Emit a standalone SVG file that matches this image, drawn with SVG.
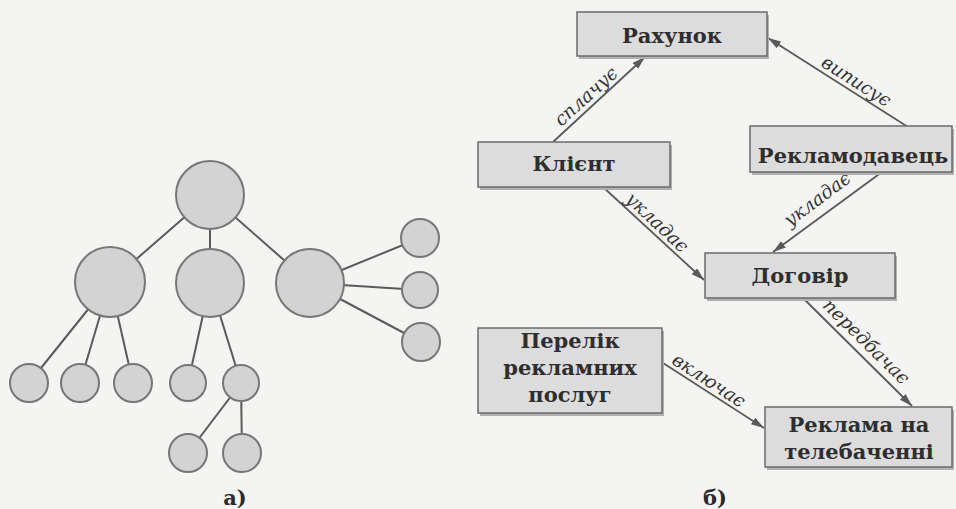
<svg xmlns="http://www.w3.org/2000/svg" width="956" height="509" viewBox="0 0 956 509">
<defs>
<style>
.bg{fill:#f4f4f2}
.edge{stroke:#5a5a5a;stroke-width:2;fill:none}
.big{fill:#d3d3d3;stroke:#767676;stroke-width:2}
.sm{fill:#d3d3d3;stroke:#767676;stroke-width:2}
.box{fill:#dcdcdc;stroke:#6a6a6a;stroke-width:1.5}
.shadow{fill:#b0b0b0}
.t{font-family:"DejaVu Serif","Liberation Serif",serif;font-size:21px;font-weight:bold;fill:#2e2e2e;text-anchor:middle}
.lab{font-family:"DejaVu Serif","Liberation Serif",serif;font-size:18.5px;font-style:italic;fill:#333;text-anchor:middle}
.arr{stroke:#5a5a5a;stroke-width:1.8;fill:none;marker-end:url(#ah)}
.cap{font-family:"DejaVu Serif","Liberation Serif",serif;font-size:21px;font-weight:bold;fill:#2a2a2a;text-anchor:middle}
</style>
<marker id="ah" markerUnits="userSpaceOnUse" markerWidth="14" markerHeight="10" refX="13" refY="4" orient="auto">
<path d="M0,0 L13,4 L0,8 z" fill="#5a5a5a"/>
</marker>
</defs>
<rect class="bg" x="0" y="0" width="956" height="509"/>

<!-- tree a) -->
<g id="tree-edges">
<line class="edge" x1="210" y1="195" x2="110" y2="282"/>
<line class="edge" x1="210" y1="195" x2="210" y2="283"/>
<line class="edge" x1="210" y1="195" x2="310" y2="283"/>
<line class="edge" x1="110" y1="282" x2="29" y2="383"/>
<line class="edge" x1="110" y1="282" x2="80" y2="383"/>
<line class="edge" x1="110" y1="282" x2="133" y2="383"/>
<line class="edge" x1="210" y1="283" x2="188" y2="383"/>
<line class="edge" x1="210" y1="283" x2="241" y2="383"/>
<line class="edge" x1="241" y1="383" x2="188" y2="453"/>
<line class="edge" x1="241" y1="383" x2="242" y2="453"/>
<line class="edge" x1="310" y1="283" x2="420" y2="238"/>
<line class="edge" x1="310" y1="283" x2="420" y2="290"/>
<line class="edge" x1="310" y1="283" x2="421" y2="342"/>
</g>
<g id="root"><circle class="big" cx="210" cy="195" r="34"/></g>
<g id="c1"><circle class="big" cx="110" cy="282" r="35"/></g>
<g id="c2"><circle class="big" cx="210" cy="283" r="34"/></g>
<g id="c3"><circle class="big" cx="310" cy="283" r="34"/></g>
<g id="l1"><circle class="sm" cx="29" cy="383" r="19"/></g>
<g id="l2"><circle class="sm" cx="80" cy="383" r="19"/></g>
<g id="l3"><circle class="sm" cx="133" cy="383" r="19"/></g>
<g id="l4"><circle class="sm" cx="188" cy="383" r="18"/></g>
<g id="l5"><circle class="sm" cx="241" cy="383" r="18"/></g>
<g id="l6"><circle class="sm" cx="188" cy="453" r="19"/></g>
<g id="l7"><circle class="sm" cx="242" cy="453" r="19"/></g>
<g id="r1"><circle class="sm" cx="420" cy="238" r="19"/></g>
<g id="r2"><circle class="sm" cx="420" cy="290" r="18"/></g>
<g id="r3"><circle class="sm" cx="421" cy="342" r="19"/></g>
<text class="cap" x="235" y="505">а)</text>

<!-- diagram б) connectors -->
<g id="connectors">
<line class="arr" x1="553" y1="142" x2="645" y2="57"/>
<line class="arr" x1="908" y1="127" x2="768" y2="38"/>
<line class="arr" x1="603" y1="187" x2="704" y2="280"/>
<line class="arr" x1="882" y1="172" x2="773" y2="252"/>
<line class="arr" x1="803" y1="298" x2="912" y2="406"/>
<line class="arr" x1="663" y1="363" x2="764" y2="428"/>
<text class="lab" transform="translate(590,101) rotate(-42.1)">сплачує</text>
<text class="lab" transform="translate(853,86.5) rotate(32.4)">виписує</text>
<text class="lab" transform="translate(653,227) rotate(42.9)">укладає</text>
<text class="lab" transform="translate(821,204) rotate(-36.8)">укладає</text>
<text class="lab" transform="translate(862,346) rotate(44.5)">передбачає</text>
<text class="lab" transform="translate(705.5,385.5) rotate(33)">включає</text>
</g>

<g id="rahunok">
<rect class="shadow" x="579" y="15" width="190" height="44"/>
<rect class="box" x="577" y="12" width="190" height="44"/>
<text class="t" x="672" y="43">Рахунок</text>
</g>
<g id="klient">
<rect class="shadow" x="480" y="145" width="192" height="45"/>
<rect class="box" x="478" y="142" width="192" height="45"/>
<text class="t" x="574" y="171">Клієнт</text>
</g>
<g id="reklamodavets">
<rect class="shadow" x="752" y="129" width="202" height="46"/>
<rect class="box" x="750" y="126" width="202" height="46"/>
<text class="t" x="853" y="163">Рекламодавець</text>
</g>
<g id="dohovir">
<rect class="shadow" x="707" y="256" width="190" height="45"/>
<rect class="box" x="705" y="253" width="190" height="45"/>
<text class="t" x="800" y="283">Договір</text>
</g>
<g id="perelik">
<rect class="shadow" x="480" y="331" width="184" height="85"/>
<rect class="box" x="478" y="328" width="184" height="85"/>
<text class="t" x="570" y="348">Перелік</text>
<text class="t" x="570" y="375">рекламних</text>
<text class="t" x="570" y="402">послуг</text>
</g>
<g id="reklama-tv">
<rect class="shadow" x="767" y="410" width="187" height="60"/>
<rect class="box" x="765" y="407" width="187" height="60"/>
<text class="t" x="859" y="432">Реклама на</text>
<text class="t" x="859" y="459">телебаченні</text>
</g>
<text class="cap" x="715" y="505">б)</text>
</svg>
